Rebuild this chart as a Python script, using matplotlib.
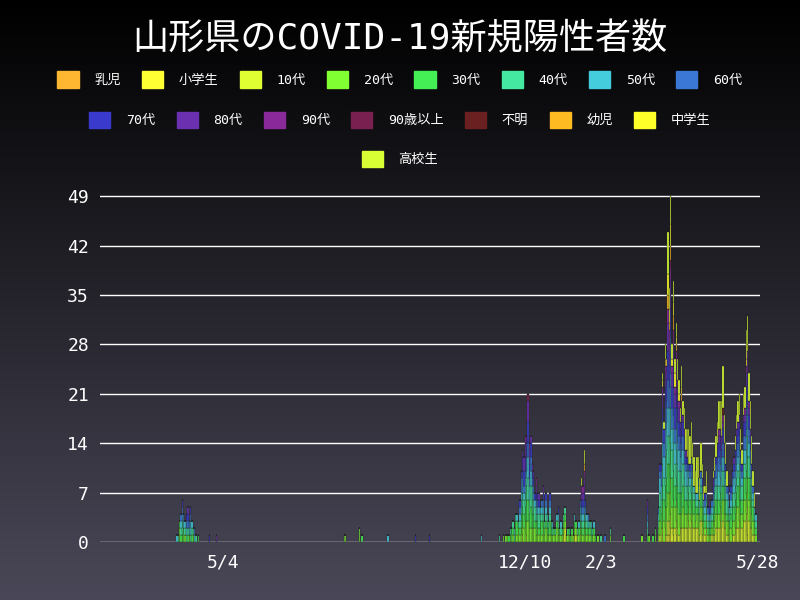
import matplotlib.pyplot as plt
import matplotlib.patches as mpatches
import numpy as np
import pandas as pd
import re

plt.rcParams['font.family'] = ['DejaVu Sans Mono', 'Noto Sans CJK JP']

# category code -> label, colour (stacked bottom to top in this order)
codes = "abcdefghijklmnop"
labels = ["乳児", "小学生", "10代", "20代", "30代", "40代", "50代", "60代",
          "70代", "80代", "90代", "90歳以上", "不明", "幼児", "中学生", "高校生"]
colors = ["#ffb732", "#ffff33", "#e0ff33", "#80ff33", "#44ee55", "#44e8a0",
          "#44ccdd", "#3b77d4", "#3a3acc", "#6a30b0", "#8a2a9a", "#7a2050",
          "#6a2020", "#ffbb22", "#ffff2a", "#d8ff33"]

# daily new cases (code letter + count)
days = {
    "2020-03-31": "g1", "2020-04-01": "f1", "2020-04-02": "d2e1", "2020-04-03": "e1f1g1h1",
    "2020-04-04": "d1f2g1h1i1", "2020-04-05": "e2g1h1", "2020-04-06": "d1f1g1",
    "2020-04-07": "f1g1h1i1", "2020-04-08": "e1f1h1i1j1", "2020-04-09": "d1g1h1",
    "2020-04-10": "f1g2h1i1", "2020-04-11": "e1f1g1", "2020-04-12": "d1f1", "2020-04-13": "g1h1",
    "2020-04-14": "f1", "2020-04-16": "e1", "2020-04-24": "i1", "2020-04-29": "j1",
    "2020-07-31": "d1", "2020-08-01": "d1", "2020-08-11": "d2", "2020-08-13": "e1",
    "2020-09-01": "g1", "2020-09-21": "i1", "2020-10-01": "i1",
    "2020-11-08": "g1", "2020-11-21": "f1", "2020-11-24": "d1", "2020-11-26": "d1",
    "2020-11-27": "d1", "2020-11-28": "e1", "2020-11-29": "d1f1", "2020-11-30": "e2",
    "2020-12-01": "d1e1f1", "2020-12-02": "f1g1", "2020-12-03": "d2e1f1",
    "2020-12-04": "d1e2g1", "2020-12-05": "d2f1", "2020-12-06": "d1e1f1g1h1i1",
    "2020-12-07": "d2e2f2g1h2i1", "2020-12-08": "c1d2e2f2g2h1i2j1",
    "2020-12-09": "d2e2f2g1h1i2j2", "2020-12-10": "d3e2f2g2h1i2j2k1",
    "2020-12-11": "c1d2e3f2g2h2i2j1", "2020-12-12": "d3e3f3g3h2i3j3l1",
    "2020-12-13": "d2e2f2g2h1i2j2k1", "2020-12-14": "d2e3f3g2h2i2j1",
    "2020-12-15": "d2e2f2g2h1i1j1", "2020-12-16": "d2e2f2g1h1i1j1",
    "2020-12-17": "d2e1f2g1i1", "2020-12-18": "d1e2f1g1h1i1j1k1",
    "2020-12-19": "d2e1f1g1h1i1", "2020-12-20": "d1e1f2g1i1j1", "2020-12-21": "d2e1f1g1",
    "2020-12-22": "d1e2f1g1h1", "2020-12-23": "d2e1f1g1h1i1j1", "2020-12-24": "d1e1f1",
    "2020-12-25": "d2e1f1g1h1i1", "2020-12-26": "d1e1f1g1", "2020-12-27": "d1e1f1",
    "2020-12-28": "d1e2f1g1h1i1", "2020-12-29": "d1e1f1", "2020-12-30": "d1f1g1",
    "2020-12-31": "d1e1", "2021-01-01": "d1f1", "2021-01-02": "d2e1g1",
    "2021-01-03": "d1e1f1g1i1", "2021-01-04": "d1e1", "2021-01-05": "d1f1g1",
    "2021-01-06": "d1e1", "2021-01-07": "c1d1e1f1", "2021-01-08": "c2d1e1f1",
    "2021-01-09": "d1", "2021-01-10": "d1e1", "2021-01-11": "d1f1", "2021-01-12": "e1",
    "2021-01-13": "d1e1", "2021-01-14": "d1", "2021-01-15": "c1d1e1g1",
    "2021-01-16": "c1d1e1", "2021-01-17": "d1f1", "2021-01-18": "d1e1g1",
    "2021-01-19": "d2e1f1g1h1", "2021-01-20": "d1e1f1g1h1i1j1k1p1",
    "2021-01-21": "d1e1f1g1h1i1j1k1", "2021-01-22": "d2e1f1g1h1i1j2k1n1p2",
    "2021-01-23": "d1e1f1g1h1i1", "2021-01-24": "d1e1f1g1", "2021-01-25": "d1e1g1h1",
    "2021-01-26": "d1e1f1", "2021-01-27": "e1f1g1", "2021-01-28": "d1f1",
    "2021-01-29": "d1e1g1", "2021-01-30": "e1", "2021-02-01": "d1", "2021-02-03": "f1",
    "2021-02-06": "h1", "2021-02-10": "d1f1", "2021-02-20": "e1",
    "2021-03-05": "d1", "2021-03-09": "e1f1g1h1i1j1", "2021-03-10": "d1",
    "2021-03-13": "e1", "2021-03-15": "d1e1",
}

# third wave, consecutive days starting 2021-03-17
wave3_start = "2021-03-17"
wave3 = [
    "d1e1f1g1h1", "c1d2e2f2g2h1i1", "d2e2f2g2h2i1", "b1c1d3e3f3g3h3i2j2k1p1o1",
    "d3e3f3g3h2i2p1", "b1c1d3e3f4g4h3i3j2k1n1p2", "c1d4e4f4g4h3i3j2o1",
    "b1c2d4e4f4g4h4i4j4k2n2o3p6", "b1c2d4e4f4g4h3i3j3k2n1o2p3",
    "b2c2d5e5f5g5h5i4j4k2l1n2o3p4", "c2d3e4f4g3h3i3j2k1o1p2",
    "b1c1d4e4f4g4h4i3j3k2n2o2p3", "c2d3e3f3g3h2i3j2k1o2p2",
    "b1c2d3e3f4g3h3i3j3k2n1o1p2", "c2d3e3f3g3h3i3j2k1p3",
    "c1d3e3f3g3h2i2j2k1o1p2", "c2d2e3f3g2h2i2j1p2",
    "c2d2e3f3g3h2i2j2k1n1o1p3", "c2d3e3f3g2h2i2j1p2",
    "c2d2e2f3g2h2i2j1p3", "c2d2e2f2g2h1i1j1p3", "c2d2e2f2g2h1i1o1p3",
    "c3d2e2f2g1h1p5", "c2d2e2f2g1h1i1p4", "c3d2e2f2g2h1p5",
    "c2d2e2f2g1h1i1p3", "c2d2e2f1g1p4", "c2d1e2f1g1p3", "c2d2e1f1g1p5",
    "c2d2e2f1g1h1p3", "c1d2e1f1g1p3", "c3d2e2f1g1h1p4", "c1d2e2f1g1h1i1p2",
    "c2d1e1f1g1p2", "c1d1e1f1g1h1i1p1", "c2d2e1f1g1p3", "d1e1f1g1h1",
    "d1e1f1g1i1j1", "d1e1f1g1h1", "c1d1e1f1g1h1", "c1d2e1f1g1h1i1j1p1",
    "c1d2e2f2g1h1i1p2", "c2d2e2f2g1h2i1p3", "c2d2e2f2g2h2i1j1p3",
    "c2d2e2f2g2h2i2j1k1p4", "c3d2e2f2g2h2i2j1p4", "c2d2e2f2g2h2i1j1k1p5",
    "c3d3e2f2g2h2i2j1k1m1p6", "c2d2e2f2g2h2i1j1p4", "c2d2e2f2g1h1i1p3",
    "c1d2e1f2g1h1p2", "c1d2e1f1g1h1i1", "d2e1f1g1", "d2e2f1g1h1i1",
    "c1d2e2f2g1h1i1", "c1d2e2f2g2h1i1j1", "c2d2e2f2g2h2i1p2",
    "c2d3e2f2g2h2i2j1p2", "c2d3e3f2g2h2i2j1p3", "c3d3e3f2g2h2i2j1p3",
    "c2d2e2f2g2h2i1p3", "c2d2e2f2g1h1i1p2", "c3d3e3f2g2h2i2j1p3",
    "c3d3e3f2g2h2i2j1k1p3", "c4d3e3f3g3h3i3j2k1o1p4", "b1c4d4e3f3g3h3i3j2k1o1p4",
    "c3d3e3f3g2h2i2j1k1p4", "c2d3e2f2g2h2i2j1p4", "c2d2e2f2g1h1i1p4",
    "c1d2e2f1g1h1p2", "c1d1e1f1g1p2", "d1e1f1g1",
]

counts = {}
for d, s in days.items():
    counts[pd.Timestamp(d)] = s
for i, s in enumerate(wave3):
    counts[pd.Timestamp(wave3_start) + pd.Timedelta(days=i)] = s
rows = {}
for d, s in counts.items():
    row = dict.fromkeys(codes, 0)
    for c, n in re.findall(r"([a-p])(\d+)", s):
        row[c] += int(n)
    rows[d] = row
df = pd.DataFrame.from_dict(rows, orient="index")[list(codes)].sort_index()

fig = plt.figure(figsize=(8, 6), dpi=100)
bax = fig.add_axes([0, 0, 1, 1], zorder=-1)
grad = np.linspace(0, 1, 256).reshape(-1, 1)
bax.imshow(grad, aspect="auto", extent=[0, 1, 0, 1],
           cmap=plt.matplotlib.colors.LinearSegmentedColormap.from_list("g", ["#000000", "#4a4858"]))
bax.axis("off")

ax = fig.add_axes([0.125, 0.0967, 0.825, 0.588])
ax.set_facecolor("none")
bottom = np.zeros(len(df))
for c, col in zip(codes, colors):
    v = df[c].values
    ax.bar(df.index, v, bottom=bottom, width=1.0, color=col, edgecolor="#222222", linewidth=0.25)
    bottom += v

ax.set_ylim(0, 50)
ax.set_yticks([0, 7, 14, 21, 28, 35, 42, 49])
ax.yaxis.grid(True, color="white", linewidth=1)
ax.set_axisbelow(True)
ax.set_xlim(pd.Timestamp("2020-02-04"), pd.Timestamp("2021-05-30"))
ax.set_xticks(pd.to_datetime(["2020-05-04", "2020-12-10", "2021-02-03", "2021-05-28"]))
ax.set_xticklabels(["5/4", "12/10", "2/3", "5/28"])
ax.tick_params(colors="white", labelsize=13, length=0, pad=8)
for s in ax.spines.values():
    s.set_visible(False)

fig.text(0.5, 0.935, "山形県のCOVID-19新規陽性者数", color="white", fontsize=26,
         ha="center", va="center")

# legend rows as in the reference: 8, 7, 1
handles = [mpatches.Patch(color=col, label=lab) for lab, col in zip(labels, colors)]
for rows_, y in [(handles[:8], 0.868), (handles[8:15], 0.80), (handles[15:], 0.735)]:
    fig.legend(handles=rows_, loc="center", bbox_to_anchor=(0.5, y), ncol=len(rows_),
               frameon=False, fontsize=9.5, labelcolor="white", handlelength=1.6,
               handleheight=1.6, columnspacing=1.6, handletextpad=1.2)

fig.savefig("out.png", dpi=100)
